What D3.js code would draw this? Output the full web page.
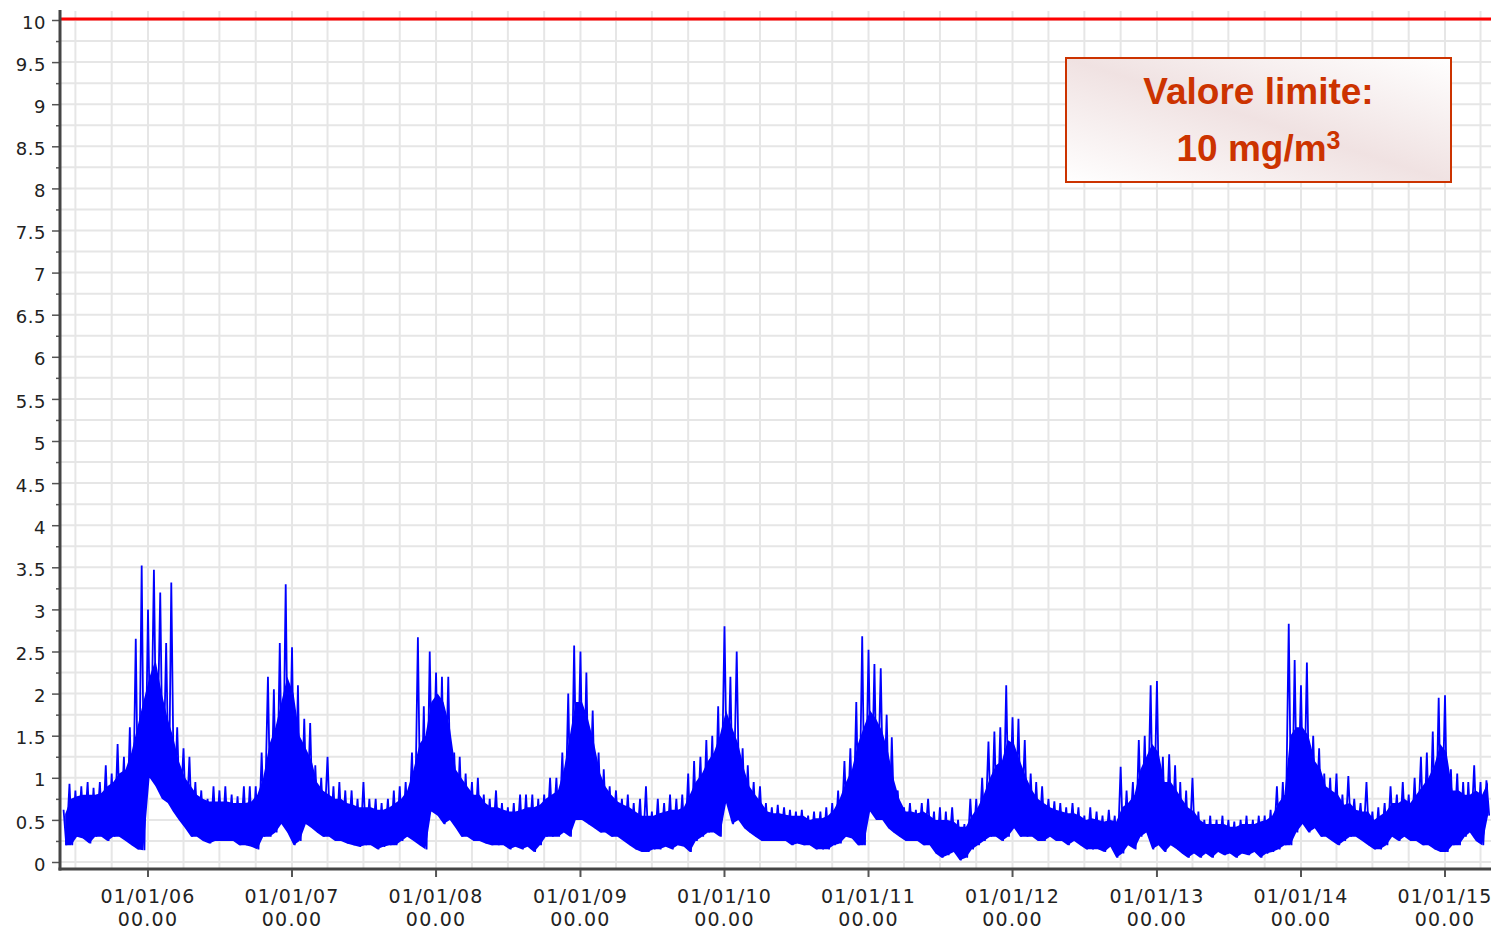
<!DOCTYPE html>
<html><head><meta charset="utf-8">
<script src="https://cdn.jsdelivr.net/npm/d3@7"></script>
<style>body{margin:0;background:#fff}svg{display:block}</style>
</head><body>
<svg id="c" width="1491" height="929"></svg>
<script>
// ---- data (semimonthly samples: 1st and 16th of each month, starting June 2005) ----
const startMonth = "2005-06";
// highest spike within each half-month, mg/m3
const hiVals = [
  // 2005 Jun-Dec
  0.62,0.93, 0.85,0.9, 0.95,0.88, 0.95,1.15, 1.05,1.4, 1.25,1.6, 2.65,3.52,
  // 2006
  3.0,3.47, 3.2,2.6, 3.32,1.6, 1.35,1.25, 0.95,0.85, 0.75,0.9, 0.85,0.9, 0.8,0.78, 0.9,0.9, 0.9,1.3, 2.2,2.05, 2.6,3.3,
  // 2007
  2.55,2.1, 1.7,1.65, 1.15,1.0, 1.25,0.9, 0.95,0.85, 0.85,0.75, 0.95,0.75, 0.75,0.7, 0.75,0.85, 0.9,0.95, 1.3,2.67, 1.85,2.5,
  // 2008
  2.25,2.2, 2.2,1.3, 1.25,1.05, 0.95,1.0, 0.8,0.75, 0.85,0.7, 0.65,0.7, 0.8,0.8, 0.8,0.75, 0.8,1.0, 1.0,1.3, 2.0,2.57,
  // 2009
  2.5,2.25, 1.8,1.3, 1.1,0.9, 0.85,0.75, 0.8,0.7, 0.75,0.9, 0.6,0.75, 0.7,0.8, 0.75,0.8, 1.05,1.2, 1.25,1.45, 1.5,1.85,
  // 2010
  2.8,2.2, 2.5,1.35, 1.15,0.95, 0.9,0.7, 0.65,0.68, 0.65,0.62, 0.6,0.62, 0.55,0.6, 0.6,0.65, 0.7,0.85, 1.2,1.35, 1.9,2.68,
  // 2011
  2.52,2.35, 2.3,1.75, 1.48,0.85, 0.65,0.7, 0.62,0.7, 0.75,0.6, 0.65,0.6, 0.65,0.5, 0.45,0.75, 0.75,1.0, 1.43,1.55, 1.6,2.1,
  // 2012
  1.72,1.7, 1.45,1.05, 0.95,0.9, 0.75,0.72, 0.7,0.65, 0.7,0.65, 0.55,0.65, 0.6,0.55, 0.62,0.55, 1.13,0.85, 0.95,1.45, 1.5,2.1,
  // 2013
  2.15,1.25, 1.28,1.15, 0.95,0.85, 1.0,0.6, 0.5,0.55, 0.5,0.55, 0.5,0.48, 0.5,0.55, 0.5,0.55, 0.55,0.62, 0.9,0.95, 2.83,2.4,
  // 2014
  2.1,2.37, 1.5,1.35, 1.05,1.0, 1.05,0.8, 1.02,0.75, 0.7,0.95, 0.6,0.65, 0.7,0.9, 0.8,0.95, 0.8,1.0, 1.25,1.3, 1.55,1.95,
  // 2015 Jan-Apr
  1.98,1.1, 1.05,0.95, 0.95,1.15, 0.95,0.97
];
// top of the dense (solid) part of the trace within each half-month, mg/m3
const coreVals = [
  // 2005 Jun-Dec
  0.57,0.75, 0.78,0.8, 0.8,0.8, 0.82,0.9, 0.95,1.05, 1.1,1.3, 1.6,1.9,
  // 2006
  2.2,2.4, 2.0,1.7, 1.5,1.2, 1.0,0.9, 0.8,0.75, 0.72,0.72, 0.72,0.72, 0.7,0.7, 0.7,0.72, 0.8,1.0, 1.4,1.6, 1.9,2.2,
  // 2007
  2.0,1.5, 1.35,1.2, 0.95,0.85, 0.8,0.75, 0.75,0.7, 0.68,0.65, 0.65,0.65, 0.62,0.62, 0.65,0.7, 0.75,0.85, 1.1,1.4, 1.5,1.9,
  // 2008
  2.0,1.9, 1.6,1.1, 1.0,0.9, 0.8,0.8, 0.7,0.65, 0.65,0.62, 0.6,0.6, 0.62,0.65, 0.65,0.68, 0.75,0.8, 0.85,1.1, 1.5,1.9,
  // 2009
  1.9,1.7, 1.4,1.05, 0.9,0.8, 0.72,0.68, 0.65,0.6, 0.55,0.55, 0.55,0.58, 0.6,0.62, 0.62,0.65, 0.8,0.95, 1.05,1.2, 1.3,1.5,
  // 2010
  1.8,1.6, 1.4,1.1, 0.9,0.8, 0.7,0.6, 0.58,0.58, 0.56,0.55, 0.55,0.55, 0.5,0.52, 0.52,0.55, 0.62,0.75, 0.95,1.1, 1.4,1.6,
  // 2011
  1.8,1.7, 1.55,1.3, 1.0,0.75, 0.6,0.6, 0.58,0.6, 0.55,0.5, 0.5,0.5, 0.48,0.42, 0.42,0.55, 0.65,0.8, 1.0,1.15, 1.2,1.45,
  // 2012
  1.4,1.2, 1.0,0.85, 0.75,0.7, 0.65,0.62, 0.6,0.58, 0.58,0.55, 0.5,0.52, 0.5,0.48, 0.5,0.48, 0.65,0.7, 0.8,1.1, 1.25,1.4,
  // 2013
  1.3,0.95, 0.95,0.85, 0.75,0.65, 0.6,0.5, 0.45,0.45, 0.45,0.45, 0.42,0.42, 0.45,0.45, 0.45,0.48, 0.5,0.55, 0.7,0.8, 1.5,1.6,
  // 2014
  1.6,1.5, 1.2,1.1, 0.9,0.85, 0.8,0.68, 0.7,0.62, 0.6,0.6, 0.5,0.55, 0.6,0.7, 0.7,0.75, 0.7,0.8, 0.9,1.0, 1.15,1.4,
  // 2015 Jan-Apr
  1.3,0.85, 0.85,0.8, 0.8,0.85, 0.8,0.95
];
// lowest value within each half-month, mg/m3
const loVals = [
  // 2005 Jun-Dec
  0.2,0.2, 0.3,0.28, 0.22,0.3, 0.3,0.25, 0.3,0.3, 0.25,0.2, 0.15,0.14,
  // 2006
  1.0,0.9, 0.75,0.7, 0.6,0.5, 0.4,0.3, 0.3,0.25, 0.22,0.25, 0.25,0.25, 0.25,0.2, 0.2,0.18, 0.15,0.3, 0.3,0.35, 0.45,0.35,
  // 2007
  0.2,0.25, 0.45,0.4, 0.35,0.3, 0.3,0.25, 0.25,0.22, 0.2,0.18, 0.2,0.2, 0.15,0.18, 0.2,0.2, 0.25,0.3, 0.25,0.2, 0.15,0.6,
  // 2008
  0.55,0.45, 0.5,0.4, 0.3,0.3, 0.25,0.25, 0.22,0.2, 0.2,0.2, 0.15,0.18, 0.15,0.18, 0.12,0.2, 0.3,0.3, 0.3,0.35, 0.3,0.5,
  // 2009
  0.5,0.45, 0.4,0.35, 0.35,0.3, 0.3,0.25, 0.2,0.15, 0.12,0.12, 0.15,0.15, 0.18,0.15, 0.2,0.18, 0.12,0.25, 0.3,0.35, 0.35,0.3,
  // 2010
  0.7,0.45, 0.5,0.4, 0.35,0.3, 0.25,0.25, 0.25,0.25, 0.25,0.2, 0.22,0.2, 0.2,0.15, 0.15,0.15, 0.2,0.22, 0.3,0.28, 0.2,0.2,
  // 2011
  0.6,0.5, 0.5,0.4, 0.35,0.3, 0.25,0.25, 0.25,0.2, 0.2,0.1, 0.05,0.08, 0.12,0.02, 0.05,0.15, 0.2,0.25, 0.3,0.3, 0.25,0.3,
  // 2012
  0.4,0.3, 0.3,0.3, 0.25,0.25, 0.3,0.25, 0.25,0.2, 0.25,0.2, 0.15,0.15, 0.15,0.12, 0.18,0.05, 0.1,0.2, 0.15,0.3, 0.35,0.15,
  // 2013
  0.2,0.12, 0.2,0.15, 0.1,0.05, 0.1,0.05, 0.1,0.05, 0.12,0.08, 0.1,0.05, 0.1,0.08, 0.12,0.05, 0.1,0.12, 0.15,0.2, 0.2,0.35,
  // 2014
  0.45,0.35, 0.4,0.3, 0.3,0.25, 0.2,0.25, 0.3,0.3, 0.25,0.2, 0.15,0.15, 0.2,0.3, 0.25,0.3, 0.25,0.25, 0.2,0.2, 0.15,0.12,
  // 2015 Jan-Apr
  0.12,0.2, 0.2,0.3, 0.35,0.25, 0.2,0.55
];
const limitValue = 10;
const yTickValues = [0,0.5,1,1.5,2,2.5,3,3.5,4,4.5,5,5.5,6,6.5,7,7.5,8,8.5,9,9.5,10];
const yTickLabels = ["0","0.5","1","1.5","2","2.5","3","3.5","4","4.5","5","5.5","6","6.5","7","7.5","8","8.5","9","9.5","10"];
const xTickDates = ["2006-01-01","2007-01-01","2008-01-01","2009-01-01","2010-01-01","2011-01-01","2012-01-01","2013-01-01","2014-01-01","2015-01-01"];
const xTickLabels = ["01/01/06","01/01/07","01/01/08","01/01/09","01/01/10","01/01/11","01/01/12","01/01/13","01/01/14","01/01/15"];
const xTickTime = "00.00";
const legendTitle = "Valore limite:";
const legendValue = "10 mg/m";
const legendSup = "3";

// ---- drawing ----
const W = 1491, H = 929;
const svg = d3.select("#c");
const parseDay = d3.timeParse("%Y-%m-%d");
const parseMonth = d3.timeParse("%Y-%m");
const x = d3.scaleTime().domain([parseDay("2006-01-01"), parseDay("2015-01-01")]).range([148, 1445]);
const y = d3.scaleLinear().domain([0, 10]).range([862, 20]);
const plotL = 61, plotR = W, plotT = 11, plotB = 869;

const defs = svg.append("defs");
defs.append("clipPath").attr("id", "clip").append("rect")
  .attr("x", plotL + 1).attr("y", plotT).attr("width", plotR - plotL).attr("height", plotB - plotT - 1);
const grad = defs.append("linearGradient").attr("id", "lg")
  .attr("x1", "0").attr("y1", "1").attr("x2", "1").attr("y2", "0");
grad.append("stop").attr("offset", "0").attr("stop-color", "#ffffff");
grad.append("stop").attr("offset", "0.5").attr("stop-color", "#f0e2e2");
grad.append("stop").attr("offset", "1").attr("stop-color", "#ffffff");

// grid
const grid = svg.append("g");
grid.selectAll("line.h").data(d3.range(0, 10.001, 0.25)).join("line")
  .attr("x1", plotL).attr("x2", plotR).attr("y1", d => y(d)).attr("y2", d => y(d))
  .attr("stroke", "#e6e6e6").attr("stroke-width", 2);
const quarters = d3.timeMonth.every(3).range(x.invert(plotL), x.invert(plotR));
grid.selectAll("line.v").data(quarters).join("line")
  .attr("x1", d => x(d)).attr("x2", d => x(d)).attr("y1", plotT).attr("y2", plotB)
  .attr("stroke", "#e6e6e6").attr("stroke-width", 2);

// data series
const m0 = parseMonth(startMonth);
const samples = hiVals.map((h, i) => {
  const d = d3.timeMonth.offset(m0, Math.floor(i / 2));
  const day = i % 2 ? d3.timeDay.offset(d, 15) : d;
  return { day, hi: h, core: coreVals[i], lo: loVals[i] };
});
const gData = svg.append("g").attr("clip-path", "url(#clip)");
// dense part of the trace
gData.append("path")
  .attr("d", d3.area().x(d => x(d3.timeDay.offset(d.day, 4))).y0(d => y(d.lo)).y1(d => y(d.core))(samples))
  .attr("fill", "#0000ff");
// spikes: highest and lowest value of each half-month
const pts = [];
samples.forEach(s => { pts.push([s.day, s.hi]); pts.push([d3.timeDay.offset(s.day, 7), s.lo]); });
gData.append("path")
  .attr("d", d3.line().x(d => x(d[0])).y(d => y(d[1]))(pts))
  .attr("fill", "none").attr("stroke", "#0000ff").attr("stroke-width", 1.8);

// limit line
svg.append("line").attr("x1", plotL).attr("x2", plotR)
  .attr("y1", y(limitValue) - 1).attr("y2", y(limitValue) - 1)
  .attr("stroke", "#ff0000").attr("stroke-width", 3);

// y axis
const yAxis = svg.append("g").attr("transform", "translate(60,0)")
  .call(d3.axisLeft(y).tickValues(yTickValues).tickFormat((d, i) => yTickLabels[i]).tickSize(8).tickPadding(6));
yAxis.select(".domain").remove();
yAxis.selectAll(".tick line").attr("stroke", "#555").attr("stroke-width", 1.5);
yAxis.selectAll(".tick text").attr("font-family", "DejaVu Sans").attr("font-size", 18)
  .attr("fill", "#222").attr("dy", "0.45em").attr("letter-spacing", "0.5px");
const yMinor = svg.append("g").attr("transform", "translate(60,0)")
  .call(d3.axisLeft(y).tickValues(yTickValues.slice(0, -1).map(v => v + 0.25)).tickFormat("").tickSize(4));
yMinor.select(".domain").remove();
yMinor.selectAll(".tick line").attr("stroke", "#555").attr("stroke-width", 1.5);
svg.append("line").attr("x1", 60).attr("x2", 60).attr("y1", 10).attr("y2", 870.5)
  .attr("stroke", "#444").attr("stroke-width", 3);

// x axis
svg.append("line").attr("x1", 58.5).attr("x2", W).attr("y1", 869).attr("y2", 869)
  .attr("stroke", "#444").attr("stroke-width", 3);
const xt = svg.append("g").selectAll("g").data(xTickDates).join("g")
  .attr("transform", d => `translate(${x(parseDay(d))},0)`);
xt.append("line").attr("y1", 870).attr("y2", 877).attr("stroke", "#555").attr("stroke-width", 2);
xt.append("text").attr("y", 903).attr("text-anchor", "middle")
  .attr("font-family", "DejaVu Sans").attr("font-size", 19).attr("letter-spacing", "1.2px").attr("fill", "#222")
  .text((d, i) => xTickLabels[i]);
xt.append("text").attr("y", 926).attr("text-anchor", "middle")
  .attr("font-family", "DejaVu Sans").attr("font-size", 19).attr("letter-spacing", "1.2px").attr("fill", "#222")
  .text(xTickTime);

// legend box
svg.append("rect").attr("x", 1066).attr("y", 58).attr("width", 385).attr("height", 124)
  .attr("fill", "url(#lg)").attr("stroke", "#cc3300").attr("stroke-width", 2);
svg.append("text").attr("x", 1258.5).attr("y", 104).attr("text-anchor", "middle")
  .attr("font-family", "Liberation Sans, Arial, sans-serif").attr("font-weight", "bold")
  .attr("font-size", 37).attr("fill", "#cc3300").text(legendTitle);
const t2 = svg.append("text").attr("x", 1258.5).attr("y", 161).attr("text-anchor", "middle")
  .attr("font-family", "Liberation Sans, Arial, sans-serif").attr("font-weight", "bold")
  .attr("font-size", 37).attr("fill", "#cc3300");
t2.append("tspan").text(legendValue);
t2.append("tspan").attr("font-size", 25).attr("dy", -12).text(legendSup);
</script>
</body></html>
